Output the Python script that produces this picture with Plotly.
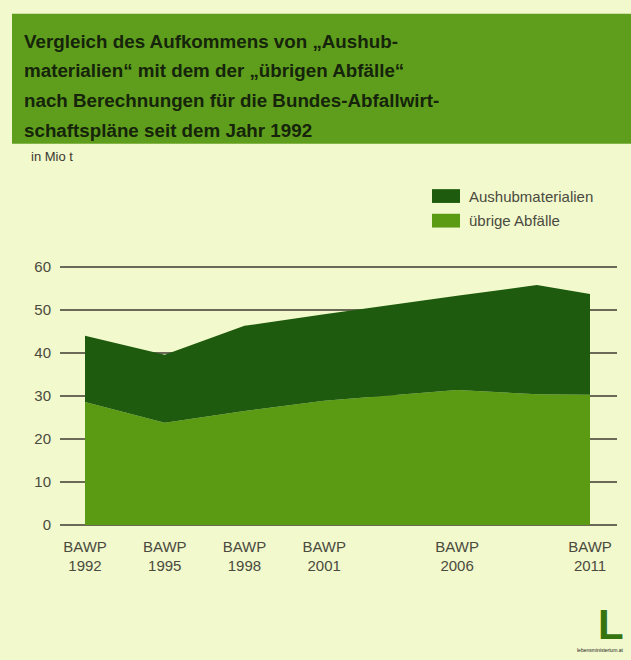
import plotly.graph_objects as go

# Waste volumes per federal waste management plan (BAWP), million tonnes
years = [1992, 1995, 1998, 2001, 2006, 2009, 2011]
uebrige_abfaelle = [28.6, 23.8, 26.5, 28.9, 31.4, 30.4, 30.3]
aushubmaterialien = [15.4, 15.8, 19.8, 20.1, 21.9, 25.4, 23.4]

tick_years = [1992, 1995, 1998, 2001, 2006, 2011]
tick_labels = ["BAWP<br>%d" % y for y in tick_years]
y_ticks = [0, 10, 20, 30, 40, 50, 60]

title_lines = [
    "Vergleich des Aufkommens von „Aushub-",
    "materialien“ mit dem der „übrigen Abfälle“",
    "nach Berechnungen für die Bundes-Abfallwirt-",
    "schaftspläne seit dem Jahr 1992",
]

W, H = 631, 660
BG = "#f2f9cc"
DARK = "#1e5b0e"
LIGHT = "#5b9b14"
BAND = "#5f9e1c"
GRID = "#6a6a56"
FONT = "Liberation Sans, Arial, sans-serif"


def px(x):
    return x / W


def py(y):
    return 1 - y / H


fig = go.Figure()
fig.add_trace(go.Scatter(
    x=years, y=uebrige_abfaelle, name="übrige Abfälle",
    stackgroup="a", mode="none", fillcolor=LIGHT, hoverinfo="x+y",
))
fig.add_trace(go.Scatter(
    x=years, y=aushubmaterialien, name="Aushubmaterialien",
    stackgroup="a", mode="none", fillcolor=DARK, hoverinfo="x+y",
))

shapes = [
    # title band
    dict(type="rect", xref="paper", yref="paper",
         x0=px(12), x1=px(W + 2), y0=py(142), y1=py(10),
         fillcolor=BAND, line=dict(width=0), layer="below"),
    # legend swatches
    dict(type="rect", xref="paper", yref="paper",
         x0=px(432), x1=px(460), y0=py(202), y1=py(188),
         fillcolor=DARK, line=dict(width=0)),
    dict(type="rect", xref="paper", yref="paper",
         x0=px(432), x1=px(460), y0=py(227), y1=py(213),
         fillcolor=LIGHT, line=dict(width=0)),
]

annotations = []
for i, line in enumerate(title_lines):
    annotations.append(dict(
        text="<b>%s</b>" % line, xref="paper", yref="paper",
        x=px(22), y=py(38 + 30 * i), xanchor="left", yanchor="middle",
        showarrow=False, font=dict(family=FONT, size=18.8, color="#15240b"),
    ))
annotations += [
    dict(text="in Mio t", xref="paper", yref="paper", x=px(29), y=py(155),
         xanchor="left", yanchor="middle", showarrow=False,
         font=dict(family=FONT, size=13, color="#3a3a30")),
    dict(text="Aushubmaterialien", xref="paper", yref="paper", x=px(467), y=py(195),
         xanchor="left", yanchor="middle", showarrow=False,
         font=dict(family=FONT, size=15, color="#4a4a40")),
    dict(text="übrige Abfälle", xref="paper", yref="paper", x=px(467), y=py(220),
         xanchor="left", yanchor="middle", showarrow=False,
         font=dict(family=FONT, size=15, color="#4a4a40")),
    dict(text="<b>L</b>", xref="paper", yref="paper", x=px(611), y=py(630),
         xanchor="center", yanchor="middle", showarrow=False,
         font=dict(family=FONT, size=42, color="#36740f")),
    dict(text="lebensministerium.at", xref="paper", yref="paper", x=px(600), y=py(656),
         xanchor="center", yanchor="middle", showarrow=False,
         font=dict(family=FONT, size=5, color="#222")),
]

# axis placement: 1992 at x=85px, 2011 at x=590px; 0 at y=529px, 60 at y=267px
ppy = (590 - 85) / (2011 - 1992)
x_left = 1992 - (85 - 60) / ppy
x_right = 2011 + (617 - 590) / ppy
ppv = (529 - 267) / 60
y_lo, y_hi = -0.6, 61.0

fig.update_layout(
    width=W, height=H,
    margin=dict(l=0, r=0, t=0, b=0),
    paper_bgcolor=BG, plot_bgcolor=BG,
    showlegend=False,
    shapes=shapes,
    annotations=annotations,
    font=dict(family=FONT, color="#4a4a40"),
    xaxis=dict(
        domain=[px(60), px(617)], range=[x_left, x_right],
        tickvals=tick_years, ticktext=tick_labels,
        showgrid=False, zeroline=False, showline=False, ticks="",
        ticklabelstandoff=8,
        tickfont=dict(family=FONT, size=15, color="#4a4a40"),
    ),
    yaxis=dict(
        domain=[py(529 - y_lo * ppv), py(529 - y_hi * ppv)],
        range=[y_lo, y_hi],
        tickvals=y_ticks,
        showgrid=True, gridcolor=GRID, gridwidth=1.6,
        zeroline=False, showline=False, ticks="",
        ticklabelstandoff=8,
        tickfont=dict(family=FONT, size=15, color="#4a4a40"),
    ),
)

fig.write_html("out.html")
